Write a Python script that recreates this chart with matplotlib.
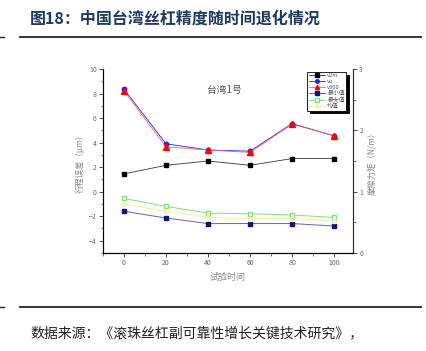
import matplotlib
matplotlib.use("Agg")
import matplotlib.pyplot as plt
from matplotlib.ticker import MultipleLocator

plt.rcParams['font.family'] = ['Noto Sans CJK SC', 'DejaVu Sans']

x = [0, 20, 40, 60, 80, 100]
v2m = [1.45, 2.15, 2.5, 2.15, 2.7, 2.7]
vu = [8.35, 3.9, 3.4, 3.3, 5.55, 4.55]
v300 = [8.2, 3.65, 3.4, 3.2, 5.5, 4.55]
min_v = [-1.6, -2.15, -2.6, -2.6, -2.6, -2.8]
max_v = [-0.55, -1.2, -1.75, -1.8, -1.9, -2.1]
mean_v = [-1.0, -1.6, -2.1, -2.2, -2.2, -2.4]

title = "图18：中国台湾丝杠精度随时间退化情况"
source = "数据来源：《滚珠丝杠副可靠性增长关键技术研究》，"

fig = plt.figure(figsize=(4.26, 3.51), dpi=100)
W, H = 426, 351
ax = fig.add_axes([103 / W, 1 - 253 / H, 250 / W, 184 / H])

tc = '#666666'
ax.plot(x, v2m, color='#333333', lw=0.6, marker='s', ms=3.2, mfc='black', mec='black', label='v2m')
ax.plot(x, vu, color='#1f1fff', lw=0.6, marker='o', ms=3.2, mfc='#1f1fff', mec='#1f1fff', label='vu')
ax.plot(x, v300, color='#ff6060', lw=0.6, marker='^', ms=3.8, mfc='red', mec='red', label='v300')
ax.plot(x, min_v, color='#6060c0', lw=0.7, marker='s', ms=3.2, mfc='#101080', mec='#101080', label='最小值')
ax.plot(x, max_v, color='#80e080', lw=0.7, marker='s', ms=3.2, mfc='white', mec='#80e080', label='最大值')
ax.plot(x, mean_v, color='#f0f0a0', lw=0.7, marker='o', ms=3, mfc='none', mec='#f0f0a0', label='均值')

ax.set_xlim(-10, 109)
ax.set_ylim(-5, 10)
ax.xaxis.set_major_locator(MultipleLocator(20))
ax.xaxis.set_minor_locator(MultipleLocator(10))
ax.yaxis.set_major_locator(MultipleLocator(2))
ax.yaxis.set_minor_locator(MultipleLocator(1))
ax.spines['top'].set_visible(False)
for s in ['left', 'bottom', 'right']:
    ax.spines[s].set_color('#333333')
    ax.spines[s].set_linewidth(0.8)
ax.tick_params(which='major', direction='out', length=3, width=0.6, labelsize=5, labelcolor=tc, color='#333333', pad=1.5)
ax.tick_params(which='minor', direction='out', length=1.8, width=0.5, color='#333333')
ax.set_ylabel('行程误差（μm）', fontsize=6, color='#888888', labelpad=3)
ax.set_xlabel('试验时间', fontsize=6.5, color='#888888', labelpad=4)

ax2 = ax.twinx()
ax2.set_ylim(0, 3)
ax2.yaxis.set_major_locator(MultipleLocator(1))
ax2.yaxis.set_minor_locator(MultipleLocator(0.5))
ax2.spines['top'].set_visible(False)
ax2.spines['right'].set_color('#333333')
ax2.spines['right'].set_linewidth(0.8)
ax2.tick_params(which='major', direction='out', length=3, width=0.6, labelsize=5, labelcolor=tc, color='#333333', pad=1.5)
ax2.tick_params(which='minor', direction='out', length=1.8, width=0.5, color='#333333')
ax2.set_ylabel('摩擦力矩（N/m）', fontsize=6, color='#888888', labelpad=3)

ax.text(48, 8.3, '台湾1号', fontsize=7, color='#555555', ha='center', va='center')

leg = ax.legend(loc='upper right', bbox_to_anchor=(0.985, 1.0), fontsize=4.2, frameon=True,
                fancybox=False, edgecolor='black', shadow={'color': 'black', 'alpha': 1},
                handlelength=2.8, handletextpad=0.4, labelspacing=0.15, borderpad=0.25,
                labelcolor='#555555', markerscale=0.8)
leg.get_frame().set_linewidth(0.6)
leg.set_zorder(10)

# title and decorations
fig.text(30 / W, 1 - 19 / H, title, fontsize=11.5, color='#1f3a60', weight='bold', va='center', ha='left')
fig.add_artist(plt.Line2D([20 / W, 421 / W], [1 - 37 / H, 1 - 37 / H], color='#222222', lw=1.3))
fig.add_artist(plt.Line2D([0, 4 / W], [1 - 37 / H, 1 - 37 / H], color='#222222', lw=1.0))
fig.add_artist(plt.Line2D([20 / W, 421 / W], [1 - 307 / H, 1 - 307 / H], color='#222222', lw=1.3))
fig.add_artist(plt.Line2D([0, 4 / W], [1 - 307 / H, 1 - 307 / H], color='#222222', lw=1.0))
fig.text(30 / W, 1 - 333 / H, source, fontsize=10, color='#222222', va='center', ha='left')

fig.savefig('out.png', dpi=100)
